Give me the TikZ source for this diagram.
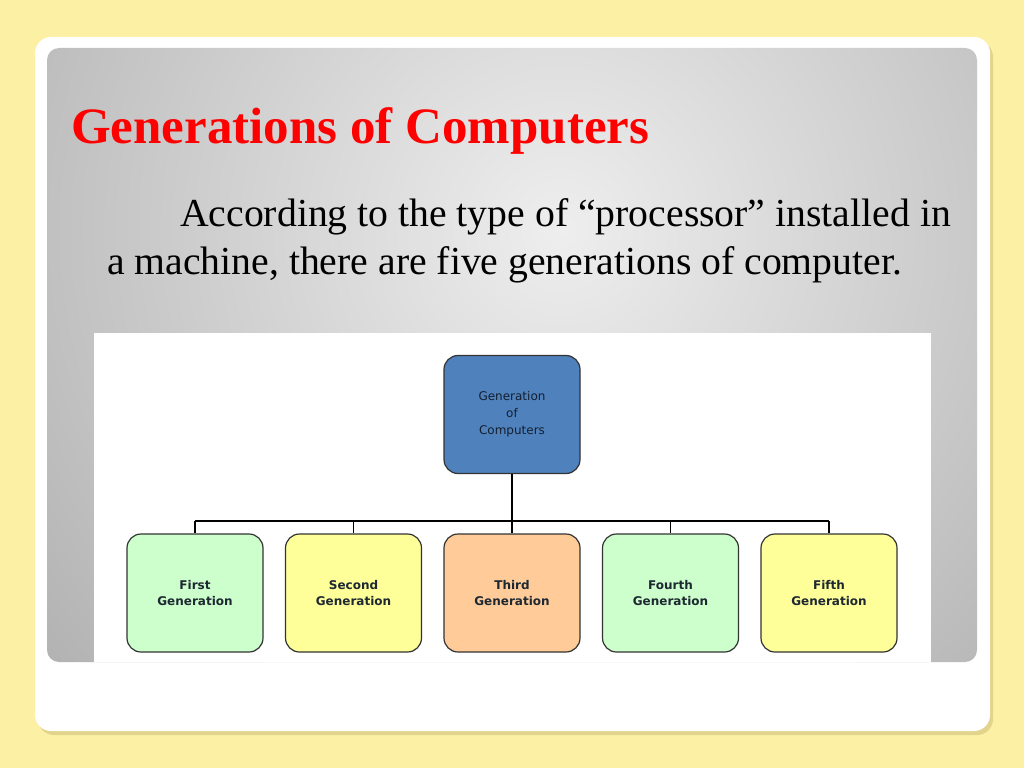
\documentclass[tikz,border=0pt]{standalone}
\usepackage{fontspec}
\setmainfont{Liberation Serif}
\newfontfamily\boxfont{DejaVu Sans}
\usetikzlibrary{positioning}

\definecolor{slideBg}{RGB}{252,240,164}
\definecolor{slideShadow}{RGB}{226,212,140}
\definecolor{panelLight}{RGB}{238,238,238}
\definecolor{panelDark}{RGB}{158,158,158}
\definecolor{genBlue}{RGB}{79,129,189}
\definecolor{genGreen}{RGB}{204,255,204}
\definecolor{genYellow}{RGB}{255,255,153}
\definecolor{genOrange}{RGB}{255,204,153}
\definecolor{boxText}{RGB}{30,40,50}

\begin{document}
\begin{tikzpicture}[x=1pt,y=-1pt,
  genbox/.style={draw=black!80,line width=1.2pt,rounded corners=14pt,
    minimum width=136pt,minimum height=118pt,align=center,
    font=\boxfont\fontsize{12}{16}\selectfont,text=boxText},
  titletext/.style={anchor=base west,inner sep=0pt,font=\bfseries\fontsize{51}{55}\selectfont},
  introtext/.style={anchor=base west,inner sep=0pt,font=\fontsize{39.7}{48}\selectfont},
  bus/.style={line width=2.2pt},
  drop/.style={line width=1.4pt}]

\useasboundingbox (0,0) rectangle (1024,768);
\fill[slideBg] (0,0) rectangle (1024,768);

% slide card with shadow
\fill[slideShadow,rounded corners=16pt] (38,41) rectangle (993,735);
\fill[white,rounded corners=16pt] (35,37) rectangle (990,731);

% grey header panel
\begin{scope}
\clip[rounded corners=12pt] (47,48) rectangle (977,662);
\shade[inner color=panelLight,outer color=panelDark] (560,230) circle (900);
\end{scope}

% title and text
\node[titletext,text=red] (title) at (71,143) {Generations of Computers};
\node[introtext] (intro1) at (180,226) {According to the type of “processor” installed in};
\node[introtext] (intro2) at (107,274) {a machine, there are five generations of computer.};

% chart area
\fill[white] (94,333) rectangle (931,662);

\node[genbox,fill=genBlue,font=\boxfont\fontsize{12}{17}\selectfont,text=black!75!genBlue]
  (gen) at (512,414.5) {Generation\\of\\Computers};

\node[genbox,fill=genGreen]  (g1) at (195,593)   {\textbf{First}\\\textbf{Generation}};
\node[genbox,fill=genYellow] (g2) at (353.5,593) {\textbf{Second}\\\textbf{Generation}};
\node[genbox,fill=genOrange] (g3) at (512,593)   {\textbf{Third}\\\textbf{Generation}};
\node[genbox,fill=genGreen]  (g4) at (670.5,593) {\textbf{Fourth}\\\textbf{Generation}};
\node[genbox,fill=genYellow] (g5) at (829,593)   {\textbf{Fifth}\\\textbf{Generation}};

\coordinate (busMid) at (512,521);
\draw[bus] (gen.south) -- (busMid);
\draw[bus] (g1.north |- busMid) -- (g5.north |- busMid);
\foreach \i in {1,...,5}
  \draw[drop] (g\i.north |- busMid) -- (g\i.north);

\end{tikzpicture}
\end{document}
